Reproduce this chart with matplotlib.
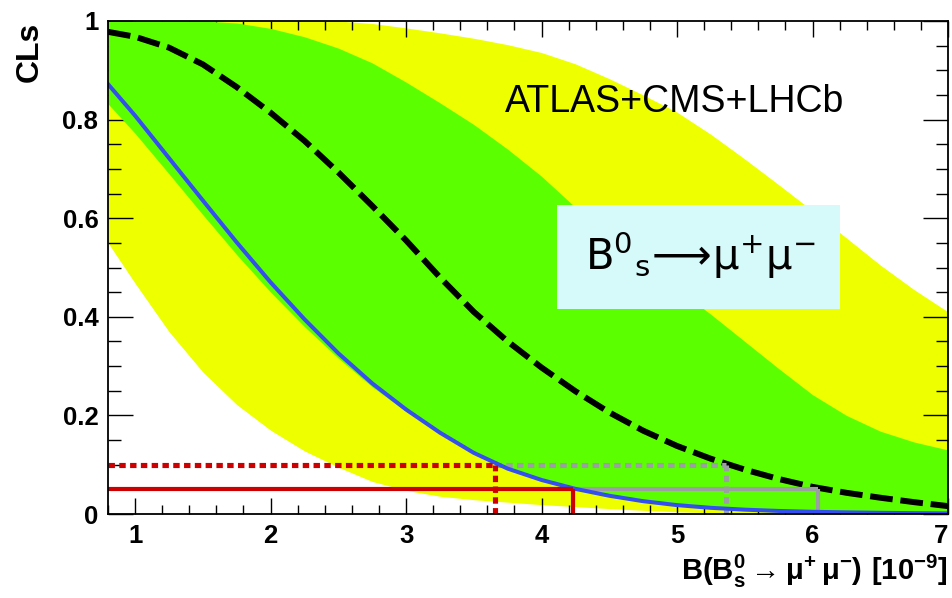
import numpy as np
import matplotlib
matplotlib.use("Agg")
import matplotlib.pyplot as plt
from matplotlib.patches import Rectangle
from matplotlib.ticker import MultipleLocator, FuncFormatter

# ---------------- data ----------------
bf = [0.8, 1.0, 1.25, 1.5, 1.75, 2.0, 2.25, 2.5, 2.75, 3.0, 3.25, 3.5, 3.75,
      4.0, 4.25, 4.5, 4.75, 5.0, 5.25, 5.5, 5.75, 6.0, 6.25, 6.5, 6.75, 7.0]

cls_observed = [0.872, 0.808, 0.722, 0.636, 0.551, 0.47, 0.395, 0.326, 0.265, 0.212,
                0.165, 0.124, 0.092, 0.069, 0.051, 0.037, 0.026, 0.018, 0.0125,
                0.0088, 0.0062, 0.0045, 0.0033, 0.0024, 0.0017, 0.0012]

cls_expected = [0.978, 0.968, 0.946, 0.912, 0.866, 0.814, 0.757, 0.693, 0.625, 0.555,
                0.48, 0.41, 0.35, 0.297, 0.249, 0.206, 0.169, 0.138, 0.112,
                0.09, 0.071, 0.055, 0.043, 0.033, 0.024, 0.016]

band1_up = [1.0, 1.0, 1.0, 1.0, 0.996, 0.985, 0.968, 0.945, 0.915, 0.876, 0.834,
            0.79, 0.74, 0.685, 0.622, 0.562, 0.507, 0.457, 0.405, 0.35, 0.295,
            0.242, 0.2, 0.168, 0.146, 0.13]
band1_dn = [0.832, 0.772, 0.69, 0.607, 0.526, 0.45, 0.38, 0.316, 0.258, 0.208, 0.163,
            0.122, 0.09, 0.067, 0.049, 0.035, 0.024, 0.0165, 0.011, 0.0075,
            0.005, 0.0035, 0.0025, 0.0017, 0.0012, 0.0008]

band2_up = [1.0, 1.0, 1.0, 1.0, 1.0, 1.0, 1.0, 1.0, 0.995, 0.986, 0.976, 0.965,
            0.952, 0.936, 0.913, 0.883, 0.85, 0.815, 0.77, 0.72, 0.668, 0.615,
            0.56, 0.505, 0.455, 0.41]
band2_dn = [0.55, 0.468, 0.37, 0.288, 0.222, 0.17, 0.128, 0.095, 0.066, 0.048,
            0.036, 0.029, 0.024, 0.019, 0.015, 0.011, 0.0075, 0.0045, 0.0025, 0.001,
            0.0, 0.0, 0.0, 0.0, 0.0, 0.0]

cl90_level = 0.10
cl95_level = 0.05
obs_limit_90 = 3.66
obs_limit_95 = 4.23
exp_limit_90 = 5.36
exp_limit_95 = 6.04

x_ticks = [1, 2, 3, 4, 5, 6, 7]
y_ticks = [0, 0.2, 0.4, 0.6, 0.8, 1.0]

# ---------------- style ----------------
YELLOW = "#eeff00"
GREEN = "#5cff00"
BLUE = "#3350ee"
RED = "#cc0000"
GRAY = "#9a9fa0"
BOXC = "#d6f9f9"

fig = plt.figure(figsize=(9.53, 5.98), dpi=100)
ax = fig.add_axes([108 / 953, 1 - 514 / 598, 840 / 953, 493 / 598])

ax.fill_between(bf, band2_dn, band2_up, color=YELLOW, lw=0, zorder=1)
ax.fill_between(bf, band1_dn, band1_up, color=GREEN, lw=0, zorder=2)

# limit lines
xmin = 0.8
ax.plot([xmin, obs_limit_95], [cl95_level, cl95_level], color=RED, lw=3.0,
        solid_capstyle="butt", zorder=5)
ax.plot([obs_limit_95, obs_limit_95], [0, cl95_level], color=RED, lw=3.0,
        solid_capstyle="butt", zorder=5)
ax.plot([obs_limit_95, exp_limit_95], [cl95_level, cl95_level], color=GRAY, lw=3.0,
        solid_capstyle="butt", zorder=4)
ax.plot([exp_limit_95, exp_limit_95], [0, cl95_level], color=GRAY, lw=3.0,
        solid_capstyle="butt", zorder=4)

dot = (0, (1.25, 0.85))
ax.plot([xmin, obs_limit_90], [cl90_level, cl90_level], color=RED, lw=3.7,
        linestyle=dot, zorder=5)
ax.plot([obs_limit_90, obs_limit_90], [0, cl90_level], color=RED, lw=3.7,
        linestyle=dot, zorder=6)
ax.plot([obs_limit_90, exp_limit_90], [cl90_level, cl90_level], color=GRAY, lw=3.7,
        linestyle=dot, zorder=4)
ax.plot([exp_limit_90, exp_limit_90], [0, cl90_level], color=GRAY, lw=3.7,
        linestyle=dot, zorder=4)

ax.plot(bf, cls_observed, color=BLUE, lw=2.9, zorder=4.5)
ax.plot(bf, cls_expected, color="black", lw=4.3, linestyle=(0, (3.8, 1.3)),
        zorder=3.5)

ax.set_xlim(0.8, 7.0)
ax.set_ylim(0, 1.0)

ax.xaxis.set_major_locator(plt.FixedLocator(x_ticks))
ax.xaxis.set_minor_locator(MultipleLocator(0.2))
ax.yaxis.set_major_locator(plt.FixedLocator(y_ticks))
ax.yaxis.set_minor_locator(MultipleLocator(0.05))
ax.xaxis.set_major_formatter(FuncFormatter(lambda v, p: "%g" % v))
ax.yaxis.set_major_formatter(FuncFormatter(lambda v, p: "%g" % v))

ax.tick_params(which="both", direction="in", top=True, right=True, width=1.0,
               labelsize=18.5, color="black")
ax.tick_params(axis="x", which="major", length=11.5, pad=7)
ax.tick_params(axis="x", which="minor", length=6.5)
ax.tick_params(axis="y", which="major", length=18, pad=7)
ax.tick_params(axis="y", which="minor", length=9)
for lab in ax.get_xticklabels() + ax.get_yticklabels():
    lab.set_fontfamily("Liberation Sans")
    lab.set_fontweight("bold")
# keep the last x label ("7") inside the figure, as in the reference
ax.xaxis.get_major_ticks()[-1].label1.set_horizontalalignment("right")
for s in ax.spines.values():
    s.set_linewidth(1.3)
    s.set_zorder(10)

# box with decay label
ax.add_patch(Rectangle(((557 - 108) / 840, (514 - 309) / 493), 283 / 840, 104 / 493,
                       transform=ax.transAxes, facecolor=BOXC, edgecolor="none",
                       zorder=7))
ax.text(0.705, 0.525, r"$\mathregular{B^{0}{}_{s}\!\longrightarrow\!μ^{+}μ^{-}}$",
        transform=ax.transAxes, ha="center", va="center", fontsize=30,
        family="DejaVu Sans", zorder=8)

ax.text((505 - 108) / 840, (514 - 112) / 493, "ATLAS+CMS+LHCb",
        transform=ax.transAxes, ha="left", va="baseline", fontsize=27,
        family="Liberation Sans", zorder=8)

fig.text(30 / 953, 1 - 22 / 598, "CLs", rotation=90, ha="center", va="top",
         fontsize=23, fontweight="bold", family="Liberation Sans")
fig.text(948 / 953, 1 - 580 / 598,
         r"$\mathregular{B(B^{0}_{s} \rightarrow μ^{+}\,μ^{-})\ [10^{-9}]}$",
         ha="right", va="baseline", fontsize=21, fontweight="bold",
         family="Liberation Sans")

fig.savefig("out.png", dpi=100)
